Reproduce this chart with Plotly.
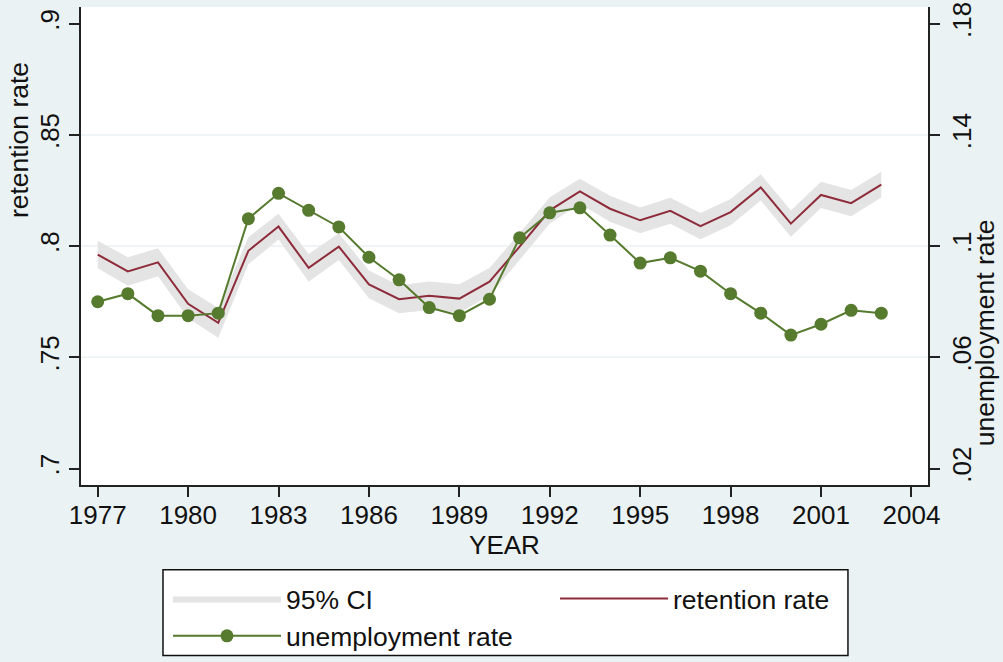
import plotly.graph_objects as go

years = list(range(1977, 2004))

retention = [0.7962, 0.7886, 0.7927, 0.7741, 0.7655, 0.7979, 0.8088, 0.7902, 0.7998,
             0.7828, 0.7761, 0.7777, 0.7764, 0.7840, 0.7998, 0.8161, 0.8246, 0.8168,
             0.8116, 0.8159, 0.8090, 0.8153, 0.8264, 0.8101, 0.8230, 0.8193, 0.8276]

ci_low = [0.7900, 0.7822, 0.7864, 0.7676, 0.7588, 0.7918, 0.8030, 0.7840, 0.7938,
          0.7766, 0.7698, 0.7713, 0.7700, 0.7778, 0.7938, 0.8102, 0.8189, 0.8110,
          0.8058, 0.8101, 0.8031, 0.8094, 0.8205, 0.8042, 0.8171, 0.8134, 0.8218]

ci_high = [0.8024, 0.7950, 0.7990, 0.7806, 0.7722, 0.8040, 0.8146, 0.7964, 0.8058,
           0.7890, 0.7824, 0.7841, 0.7828, 0.7902, 0.8058, 0.8220, 0.8303, 0.8226,
           0.8174, 0.8217, 0.8149, 0.8212, 0.8323, 0.8160, 0.8289, 0.8252, 0.8334]

unemployment = [0.0800, 0.0829, 0.0750, 0.0750, 0.0759, 0.1099, 0.1190, 0.1129, 0.1069,
                0.0960, 0.0879, 0.0779, 0.0750, 0.0809, 0.1030, 0.1120, 0.1138, 0.1040,
                0.0939, 0.0958, 0.0910, 0.0829, 0.0759, 0.0680, 0.0719, 0.0769, 0.0759]

x_ticks = list(range(1977, 2005, 3))
left_ticks = [0.7, 0.75, 0.8, 0.85, 0.9]
left_labels = [".7", ".75", ".8", ".85", ".9"]
right_ticks = [0.02, 0.06, 0.1, 0.14, 0.18]
right_labels = [".02", ".06", ".1", ".14", ".18"]
grid_vals = [0.75, 0.8, 0.85]

FONT = "Liberation Sans, Arial, sans-serif"
BG = "#EAF2F3"
RED = "#8E2C3B"
GREEN = "#567A2E"
BAND = "#E4E4E4"
INK = "#111"

fig = go.Figure()

fig.add_trace(go.Scatter(x=years, y=ci_low, mode="lines", line=dict(width=0, color=BAND),
                         showlegend=False, hoverinfo="skip"))
fig.add_trace(go.Scatter(x=years, y=ci_high, mode="lines", line=dict(width=0, color=BAND),
                         fill="tonexty", fillcolor=BAND, name="95% CI", legendwidth=264))
fig.add_trace(go.Scatter(x=years, y=retention, mode="lines", line=dict(width=2, color=RED),
                         name="retention rate", legendwidth=160))
fig.add_trace(go.Scatter(x=years, y=unemployment, mode="lines+markers", yaxis="y2",
                         line=dict(width=2, color=GREEN),
                         marker=dict(size=13, color=GREEN),
                         name="unemployment rate"))

for g in grid_vals:
    fig.add_shape(type="line", xref="paper", yref="y", x0=0, x1=1, y0=g, y1=g,
                  line=dict(color=BG, width=1.5), layer="below")

# legend frame
fig.add_shape(type="rect", xref="paper", yref="paper", x0=0.0968, x1=0.9055,
              y0=-0.3567, y1=-0.1773, line=dict(color=INK, width=1.5),
              fillcolor="white", layer="below")

axis_common = dict(showline=True, linecolor="#222", linewidth=1.5, ticks="outside",
                   ticklen=10, tickwidth=1.5, tickcolor="#222", showgrid=False,
                   zeroline=False, ticklabeloverflow="allow",
                   tickfont=dict(family=FONT, size=26, color=INK))

fig.update_layout(
    width=1003, height=662,
    margin=dict(l=81, r=75, t=2, b=175),
    paper_bgcolor=BG, plot_bgcolor="white",
    font=dict(family=FONT, size=26, color=INK),
    xaxis=dict(range=[1976.446, 2004.55], tickvals=x_ticks, ticklabelstandoff=-4,
               title=dict(text="YEAR", font=dict(family=FONT, size=26), standoff=0),
               **axis_common),
    yaxis=dict(range=[0.6926, 0.9075], tickvals=left_ticks, ticktext=left_labels,
               tickangle=-90, **axis_common),
    yaxis2=dict(range=[0.01408, 0.18603], tickvals=right_ticks, ticktext=right_labels,
                tickangle=-90, overlaying="y", side="right", anchor="x", **axis_common),
    legend=dict(orientation="h", x=0.1027, xanchor="left", y=-0.1876, yanchor="top",
                bgcolor="rgba(0,0,0,0)", borderwidth=0, itemwidth=108,
                font=dict(family=FONT, size=26.5, color=INK),
                traceorder="normal"),
    annotations=[
        dict(text="retention rate", xref="paper", yref="paper", x=-0.0732, y=0.7216,
             textangle=-90, showarrow=False, font=dict(family=FONT, size=26.5, color=INK),
             xanchor="center", yanchor="middle"),
        dict(text="unemployment rate", xref="paper", yref="paper", x=1.0673, y=0.3175,
             textangle=-90, showarrow=False, font=dict(family=FONT, size=26.5, color=INK),
             xanchor="center", yanchor="middle"),
    ],
)

fig.write_html("out.html")
